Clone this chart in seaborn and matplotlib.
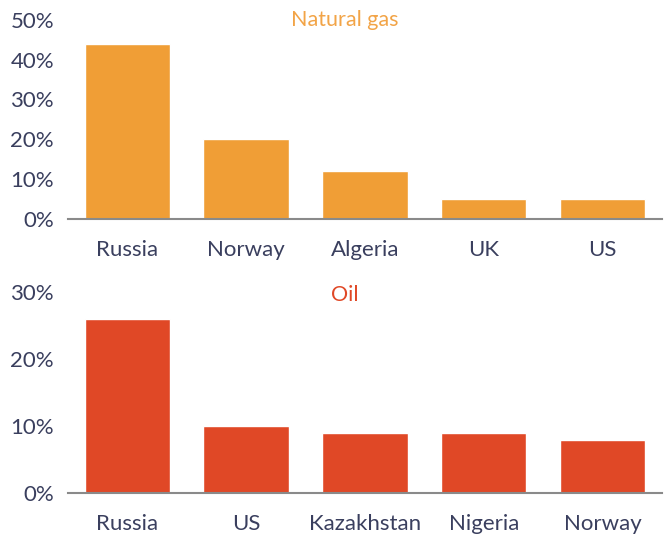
import matplotlib
matplotlib.use("Agg")
import matplotlib.pyplot as plt
import seaborn as sns
import pandas as pd
from matplotlib.ticker import FuncFormatter

gas_countries = ["Russia", "Norway", "Algeria", "UK", "US"]
gas_share = [44, 20, 12, 5, 5]
oil_countries = ["Russia", "US", "Kazakhstan", "Nigeria", "Norway"]
oil_share = [26, 10, 9, 9, 8]
gas_ticks = [0, 10, 20, 30, 40, 50]
oil_ticks = [0, 10, 20, 30]

GAS_COLOR = "#F09E36"
OIL_COLOR = "#E04826"
TEXT_COLOR = "#3a3f5e"
SPINE_COLOR = "#8a8a8a"

sns.set_theme(style="white")
plt.rcParams["font.family"] = ["Lato", "DejaVu Sans"]

fig = plt.figure(figsize=(6.72, 5.39), dpi=100)
ax1 = fig.add_axes([0.101, 0.594, 0.884, 0.369])
ax2 = fig.add_axes([0.101, 0.085, 0.884, 0.373])

gas_df = pd.DataFrame({"country": gas_countries, "share": gas_share})
oil_df = pd.DataFrame({"country": oil_countries, "share": oil_share})

sns.barplot(data=gas_df, x="country", y="share", color=GAS_COLOR, saturation=1,
            width=0.72, ax=ax1)
sns.barplot(data=oil_df, x="country", y="share", color=OIL_COLOR, saturation=1,
            width=0.72, ax=ax2)

pct = FuncFormatter(lambda v, p: f"{int(v)}%")
for ax, ticks in ((ax1, gas_ticks), (ax2, oil_ticks)):
    ax.set_xlim(-0.5, 4.5)
    ax.set_ylim(ticks[0], ticks[-1])
    ax.set_yticks(ticks)
    ax.yaxis.set_major_formatter(pct)
    ax.set_xlabel("")
    ax.set_ylabel("")
    for s in ("top", "right", "left"):
        ax.spines[s].set_visible(False)
    ax.spines["bottom"].set_color(SPINE_COLOR)
    ax.spines["bottom"].set_linewidth(1.5)
    ax.tick_params(axis="both", length=0, labelsize=16, labelcolor=TEXT_COLOR)
    ax.tick_params(axis="x", pad=15)
    ax.tick_params(axis="y", pad=10)
    ax.patch.set_alpha(0)

fig.text(0.513, 0.963, "Natural gas", color="#F2A447", fontsize=15.5,
         ha="center", va="center")
fig.text(0.513, 0.452, "Oil", color=OIL_COLOR, fontsize=15.5,
         ha="center", va="center")

fig.savefig("out.png", dpi=100)
